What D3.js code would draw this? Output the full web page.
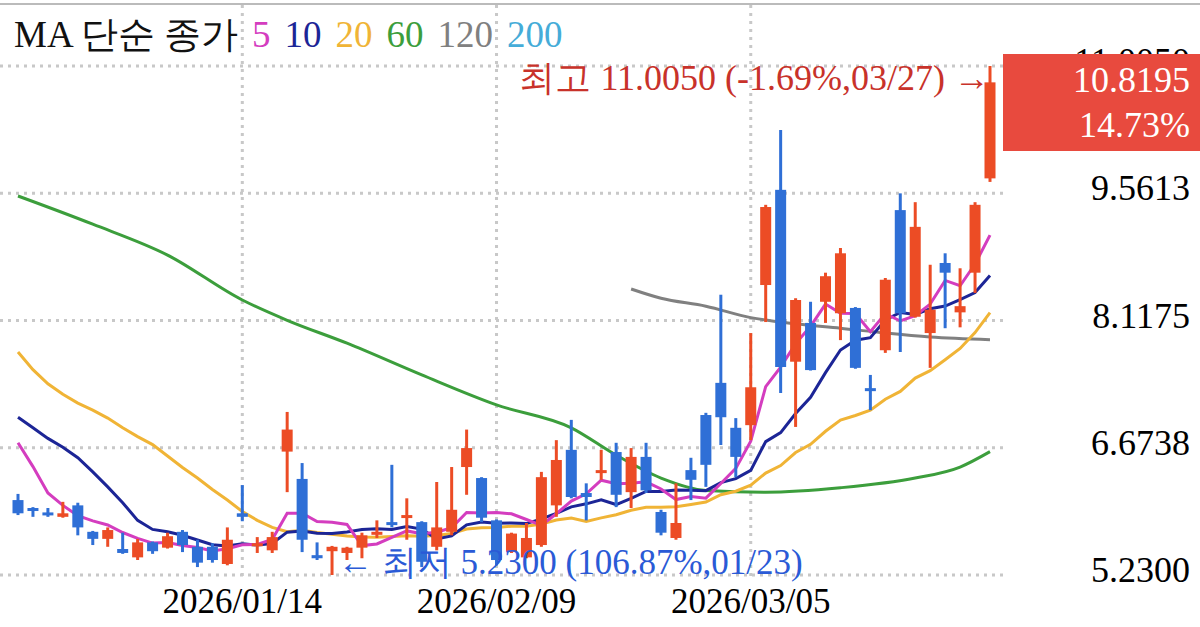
<!DOCTYPE html>
<html><head><meta charset="utf-8">
<script src="https://cdn.jsdelivr.net/npm/d3@7"></script>
<style>body{margin:0;background:#fff}svg{display:block}</style>
</head><body><svg id="c" width="1200" height="627"></svg>
<script>
const dates=["12/22","12/23","12/24","12/26","12/29","12/30","12/31","01/02","01/05","01/06","01/07","01/08","01/09","01/12","01/13","01/14","01/15","01/16","01/20","01/21","01/22","01/23","01/26","01/27","01/28","01/29","01/30","02/02","02/03","02/04","02/05","02/06","02/09","02/10","02/11","02/12","02/13","02/17","02/18","02/19","02/20","02/23","02/24","02/25","02/26","02/27","03/02","03/03","03/04","03/05","03/06","03/09","03/10","03/11","03/12","03/13","03/16","03/17","03/18","03/19","03/20","03/23","03/24","03/25","03/26","03/27"];
const open=[6.08,5.99,5.94,5.89,6.02,5.72,5.64,5.525,5.43,5.60,5.54,5.72,5.55,5.55,5.355,5.93,5.57,5.51,6.63,6.32,5.455,5.50,5.48,5.54,5.70,5.83,5.88,5.83,5.55,5.72,6.455,6.33,5.85,5.49,5.43,5.57,6.02,6.65,6.16,6.40,6.625,6.17,6.57,5.945,5.65,6.42,7.045,7.41,6.90,6.93,8.52,9.60,7.65,8.09,8.33,8.20,8.26,7.35,7.78,9.37,8.16,7.975,8.77,8.21,8.66,9.73];
const high=[6.15,6.00,5.99,6.06,6.05,5.73,5.77,5.71,5.64,5.61,5.71,5.74,5.63,5.59,5.77,6.25,5.66,5.72,7.08,6.50,5.60,5.56,5.55,5.71,5.85,6.48,6.10,5.84,6.285,6.455,6.88,6.34,5.86,5.71,5.82,6.40,6.76,6.99,6.27,6.65,6.73,6.67,6.73,5.97,6.27,6.56,7.07,8.41,7.01,7.975,9.43,10.28,8.37,8.33,8.66,8.94,8.27,7.50,8.60,9.56,9.46,8.75,8.88,8.71,9.46,11.005];
const low=[5.91,5.89,5.89,5.88,5.68,5.57,5.55,5.47,5.40,5.47,5.53,5.49,5.32,5.37,5.34,5.84,5.48,5.48,6.17,5.49,5.40,5.23,5.40,5.42,5.65,5.77,5.63,5.32,5.51,5.68,6.14,5.83,5.34,5.48,5.42,5.55,5.89,6.10,5.85,6.31,6.00,5.99,6.16,5.68,5.63,6.08,6.23,6.705,6.34,6.76,8.10,7.295,6.91,7.55,8.09,7.895,7.57,7.10,7.75,7.76,8.15,7.58,8.03,8.04,8.43,9.69];
const close=[5.93,5.97,5.91,5.93,5.77,5.64,5.74,5.48,5.60,5.50,5.67,5.57,5.37,5.40,5.63,5.89,5.59,5.66,6.88,5.63,5.42,5.55,5.54,5.68,5.72,5.80,5.91,5.38,5.77,5.97,6.67,5.88,5.40,5.70,5.65,6.34,6.535,6.115,6.115,6.42,6.14,6.57,6.19,5.71,5.82,6.31,6.48,7.02,6.57,7.36,9.405,7.59,8.35,7.555,8.62,8.88,7.58,7.32,8.58,8.20,9.18,8.24,8.66,8.28,9.43,10.8195];
// MA values before enough closes are visible
const ma5Head=[6.73,6.46,6.16,6.02];
const ma10Head=[7.02,6.90,6.78,6.68,6.56,6.40,6.23,6.05,5.85];
const ma20Head=[7.76,7.56,7.40,7.28,7.18,7.10,7.01,6.90,6.80,6.71,6.58,6.45,6.33,6.20,6.08,5.95,5.85,5.77,5.72];
const ma60Idx=[0,5,10,15,18,22,27,32,37,40,43,46,50,55,60,63,65];
const ma60Val=[9.53,9.21,8.86,8.35,8.12,7.86,7.50,7.16,6.90,6.59,6.33,6.19,6.17,6.22,6.33,6.455,6.63];
const ma120Idx=[41,43,46,49,52,55,58,61,65];
const ma120Val=[8.475,8.37,8.28,8.15,8.08,8.03,7.975,7.93,7.90];
const yTicks=[11.0050,9.5613,8.1175,6.6738,5.2300];
const xTickDates=["01/14","02/09","03/05"];
const legendNames=["5","10","20","60","120","200"];

const svg=d3.select("#c");
const F="'Liberation Serif','DejaVu Serif',serif";
const x=d3.scaleLinear().domain([0,65]).range([18,990]);
const y=d3.scaleLinear().domain([5.23,11.005]).range([575,66]);
const RED="#ec4c25",BLUE="#2f6fd6";
const colors=["#d43dbf","#1c2596","#f0b436","#3c9e3c","#808080","#45acd8"];

svg.append("line").attr("x1",0).attr("x2",1200).attr("y1",4).attr("y2",4).attr("stroke","#bbb").attr("stroke-width",2);
yTicks.forEach(t=>svg.append("line").attr("x1",0).attr("x2",1003).attr("y1",y(t)).attr("y2",y(t))
 .attr("stroke","#c8c8c8").attr("stroke-width",3).attr("stroke-dasharray","3,5"));
xTickDates.forEach(d=>{const xi=x(dates.indexOf(d));
 svg.append("line").attr("x1",xi).attr("x2",xi).attr("y1",5).attr("y2",578)
 .attr("stroke","#c8c8c8").attr("stroke-width",3).attr("stroke-dasharray","3,5");
 svg.append("text").attr("x",xi).attr("y",613).attr("text-anchor","middle").attr("font-family",F)
 .attr("font-size",35).text("2026/"+d);});

yTicks.forEach(t=>svg.append("text").attr("x",1190).attr("y",y(t)+7).attr("text-anchor","end")
 .attr("font-family",F).attr("font-size",36).text(t.toFixed(4)));

function sma(n,head){return close.map((c,i)=>i<n-1?head[i]:d3.mean(close.slice(i-n+1,i+1)));}
const line=d3.line().x(d=>x(d[0])).y(d=>y(d[1]));
const lc=d3.line().x(d=>x(d[0])).y(d=>y(d[1])).curve(d3.curveMonotoneX);
svg.append("path").attr("d",lc(ma60Idx.map((v,i)=>[v,ma60Val[i]]))).attr("fill","none").attr("stroke",colors[3]).attr("stroke-width",3);
svg.append("path").attr("d",lc(ma120Idx.map((v,i)=>[v,ma120Val[i]]))).attr("fill","none").attr("stroke",colors[4]).attr("stroke-width",3);
[[sma(20,ma20Head),2],[sma(10,ma10Head),1],[sma(5,ma5Head),0]].forEach(([arr,ci])=>
 svg.append("path").attr("d",line(arr.map((v,i)=>[i,v]))).attr("fill","none").attr("stroke",colors[ci]).attr("stroke-width",3));

const g=svg.append("g");
close.forEach((c,i)=>{const up=c>=open[i];const col=up?RED:BLUE;const xi=x(i);
 g.append("line").attr("x1",xi).attr("x2",xi).attr("y1",y(high[i])).attr("y2",y(low[i])).attr("stroke",col).attr("stroke-width",3);
 const t=y(Math.max(open[i],c)),b=y(Math.min(open[i],c));
 g.append("rect").attr("x",xi-5.5).attr("width",11).attr("y",t).attr("height",Math.max(3,b-t)).attr("fill",col);});

const lg=svg.append("text").attr("x",14).attr("y",47).attr("font-family",F).attr("font-size",37);
lg.append("tspan").attr("fill","#111").text("MA 단순 종가");
legendNames.forEach((n,i)=>lg.append("tspan").attr("dx",14).attr("fill",colors[i]).text(n));

svg.append("text").attr("x",990).attr("y",90).attr("text-anchor","end").attr("font-family",F).attr("font-size",36)
 .attr("fill","#c8322a").text("최고 "+high[65].toFixed(4)+" (-1.69%,"+dates[65]+") →");
const li=d3.minIndex(low);
svg.append("text").attr("x",x(li)+6).attr("y",574).attr("font-family",F).attr("font-size",35)
 .attr("fill","#2a5ad6").text("← 최저 "+low[li].toFixed(4)+" (106.87%,"+dates[li]+")");

svg.append("rect").attr("x",1003).attr("y",54).attr("width",197).attr("height",97).attr("fill","#e84a3e");
svg.append("text").attr("x",1190).attr("y",92).attr("text-anchor","end").attr("font-family",F).attr("font-size",36).attr("fill","#fff").text(close[65].toFixed(4));
svg.append("text").attr("x",1190).attr("y",137).attr("text-anchor","end").attr("font-family",F).attr("font-size",36).attr("fill","#fff").text("14.73%");
</script></body></html>
